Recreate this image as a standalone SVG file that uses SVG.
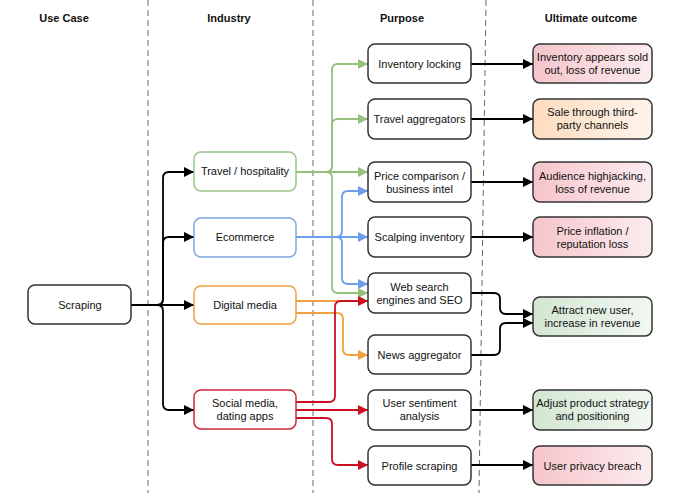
<svg xmlns="http://www.w3.org/2000/svg" width="700" height="493" viewBox="0 0 700 493">
<style>
text{font-family:"Liberation Sans",Arial,sans-serif;font-size:11px;fill:#111;text-anchor:middle;dominant-baseline:central}
.h{font-weight:bold}
.box{fill:#fff;stroke:#333;stroke-width:1.5}
.dash{stroke:#666;stroke-width:1;stroke-dasharray:6,4}
.c{fill:none;stroke-width:1.8}
.k{stroke:#000}.g{stroke:#97c07f}.b{stroke:#6d9eeb}.o{stroke:#f0a040}.r{stroke:#cc1020}
</style>
<defs>
<marker id="ak" markerUnits="userSpaceOnUse" markerWidth="10" markerHeight="10" refX="10" refY="5" orient="auto"><path d="M0,0 L10,5 L0,10 z" fill="#000"/></marker>
<marker id="ag" markerUnits="userSpaceOnUse" markerWidth="10" markerHeight="10" refX="10" refY="5" orient="auto"><path d="M0,0 L10,5 L0,10 z" fill="#97c07f"/></marker>
<marker id="ab" markerUnits="userSpaceOnUse" markerWidth="10" markerHeight="10" refX="10" refY="5" orient="auto"><path d="M0,0 L10,5 L0,10 z" fill="#6d9eeb"/></marker>
<marker id="ao" markerUnits="userSpaceOnUse" markerWidth="10" markerHeight="10" refX="10" refY="5" orient="auto"><path d="M0,0 L10,5 L0,10 z" fill="#f0a040"/></marker>
<marker id="ar" markerUnits="userSpaceOnUse" markerWidth="10" markerHeight="10" refX="10" refY="5" orient="auto"><path d="M0,0 L10,5 L0,10 z" fill="#cc1020"/></marker>
<linearGradient id="pink" x1="0" y1="0" x2="1" y2="0"><stop offset="0" stop-color="#f5c5cb"/><stop offset="1" stop-color="#fcecee"/></linearGradient>
<linearGradient id="peach" x1="0" y1="0" x2="1" y2="0"><stop offset="0" stop-color="#fcdcc0"/><stop offset="1" stop-color="#fff4ea"/></linearGradient>
<linearGradient id="green" x1="0" y1="0" x2="1" y2="0"><stop offset="0" stop-color="#d3e6d2"/><stop offset="1" stop-color="#f2f8f1"/></linearGradient>
</defs>
<rect width="700" height="493" fill="#fff"/>
<g id="lanes">
<line class="dash" x1="148" y1="0" x2="148" y2="493"/>
<line class="dash" x1="313" y1="0" x2="313" y2="493"/>
<line class="dash" x1="486" y1="0" x2="479" y2="493"/>
</g>
<g id="headers">
<text class="h" x="64" y="18">Use Case</text>
<text class="h" x="229" y="18">Industry</text>
<text class="h" x="402" y="18">Purpose</text>
<text class="h" x="591" y="18">Ultimate outcome</text>
</g>
<g id="connectors">
<path class="c k" marker-end="url(#ak)" d="M131,305 H157 Q163,305 163,299 V178 Q163,172 169,172 H194"/>
<path class="c k" marker-end="url(#ak)" d="M131,305 H157 Q163,305 163,299 V243 Q163,237 169,237 H194"/>
<path class="c k" marker-end="url(#ak)" d="M131,305 H194"/>
<path class="c k" marker-end="url(#ak)" d="M131,305 H157 Q163,305 163,311 V404 Q163,410 169,410 H194"/>
<path class="c g" marker-end="url(#ag)" d="M296,172 H326 Q332,172 332,166 V70 Q332,64 338,64 H368"/>
<path class="c g" marker-end="url(#ag)" d="M296,172 H326 Q332,172 332,166 V125 Q332,119 338,119 H368"/>
<path class="c g" marker-end="url(#ag)" d="M296,172 H368"/>
<path class="c g" marker-end="url(#ag)" d="M296,172 H326 Q332,172 332,178 V287 Q332,293 338,293 H368"/>
<path class="c b" marker-end="url(#ab)" d="M296,237 H336 Q342,237 342,231 V197 Q342,191 348,191 H368"/>
<path class="c b" marker-end="url(#ab)" d="M296,237 H368"/>
<path class="c b" marker-end="url(#ab)" d="M296,237 H336 Q342,237 342,243 V278 Q342,284 348,284 H368"/>
<path class="c o" marker-end="url(#ao)" d="M296,301 H368"/>
<path class="c o" marker-end="url(#ao)" d="M296,313 H337 Q343,313 343,319 V349 Q343,355 349,355 H368"/>
<path class="c r" marker-end="url(#ar)" d="M296,402 H329 Q335,402 335,396 V307 Q335,301 341,301 H368"/>
<path class="c r" marker-end="url(#ar)" d="M296,410 H368"/>
<path class="c r" marker-end="url(#ar)" d="M296,418 H326 Q332,418 332,424 V459 Q332,465 338,465 H368"/>
<path class="c k" marker-end="url(#ak)" d="M471,64 H533"/>
<path class="c k" marker-end="url(#ak)" d="M471,119 H533"/>
<path class="c k" marker-end="url(#ak)" d="M471,182 H533"/>
<path class="c k" marker-end="url(#ak)" d="M471,237 H533"/>
<path class="c k" marker-end="url(#ak)" d="M471,293 H494 Q500,293 500,299 V308 Q500,314 506,314 H533"/>
<path class="c k" marker-end="url(#ak)" d="M471,355 H494 Q500,355 500,349 V329 Q500,323 506,323 H533"/>
<path class="c k" marker-end="url(#ak)" d="M471,410 H533"/>
<path class="c k" marker-end="url(#ak)" d="M471,465 H533"/>
</g>
<g id="scraping"><rect class="box" x="28" y="285" width="103" height="39" rx="7"/><text x="80" y="305">Scraping</text></g>
<g id="travel"><rect class="box" style="stroke:#9cc38a" x="194" y="152" width="102" height="39" rx="7"/><text x="245" y="171">Travel / hospitality</text></g>
<g id="ecommerce"><rect class="box" style="stroke:#7ea6e0" x="194" y="218" width="102" height="39" rx="7"/><text x="245" y="237">Ecommerce</text></g>
<g id="digital"><rect class="box" style="stroke:#f0a040" x="194" y="286" width="102" height="38" rx="7"/><text x="245" y="305">Digital media</text></g>
<g id="social"><rect class="box" style="stroke:#c8283c" x="194" y="390" width="102" height="39" rx="7"/><text x="245" y="403">Social media,</text><text x="245" y="416">dating apps</text></g>
<g id="inventory-locking"><rect class="box" x="368" y="44" width="103" height="39" rx="7"/><text x="419.5" y="64">Inventory locking</text></g>
<g id="travel-aggregators"><rect class="box" x="368" y="99" width="103" height="40" rx="7"/><text x="419.5" y="119">Travel aggregators</text></g>
<g id="price-comparison"><rect class="box" x="368" y="162" width="103" height="40" rx="7"/><text x="419.5" y="176">Price comparison /</text><text x="419.5" y="189">business intel</text></g>
<g id="scalping"><rect class="box" x="368" y="217" width="103" height="40" rx="7"/><text x="419.5" y="237">Scalping inventory</text></g>
<g id="web-search"><rect class="box" x="368" y="273" width="103" height="40" rx="7"/><text x="419.5" y="287">Web search</text><text x="419.5" y="300">engines and SEO</text></g>
<g id="news"><rect class="box" x="368" y="335" width="103" height="39" rx="7"/><text x="419.5" y="355">News aggregator</text></g>
<g id="sentiment"><rect class="box" x="368" y="390" width="103" height="40" rx="7"/><text x="419.5" y="403">User sentiment</text><text x="419.5" y="416">analysis</text></g>
<g id="profile"><rect class="box" x="368" y="446" width="103" height="39" rx="7"/><text x="419.5" y="465.5">Profile scraping</text></g>
<g id="sold-out"><rect class="box" style="fill:url(#pink)" x="533" y="44" width="119" height="39" rx="7"/><text x="592.5" y="57">Inventory appears sold</text><text x="592.5" y="70">out, loss of revenue</text></g>
<g id="third-party"><rect class="box" style="fill:url(#peach)" x="533" y="99" width="119" height="40" rx="7"/><text x="592.5" y="112">Sale through third-</text><text x="592.5" y="125">party channels</text></g>
<g id="audience"><rect class="box" style="fill:url(#pink)" x="533" y="162" width="119" height="40" rx="7"/><text x="592.5" y="176">Audience highjacking,</text><text x="592.5" y="189">loss of revenue</text></g>
<g id="price-inflation"><rect class="box" style="fill:url(#pink)" x="533" y="217" width="119" height="40" rx="7"/><text x="592.5" y="231">Price inflation /</text><text x="592.5" y="244">reputation loss</text></g>
<g id="attract"><rect class="box" style="fill:url(#green)" x="533" y="297" width="119" height="39" rx="7"/><text x="592.5" y="310">Attract new user,</text><text x="592.5" y="323">increase in revenue</text></g>
<g id="adjust"><rect class="box" style="fill:url(#green)" x="533" y="390" width="119" height="40" rx="7"/><text x="592.5" y="403">Adjust product strategy</text><text x="592.5" y="416">and positioning</text></g>
<g id="privacy"><rect class="box" style="fill:url(#pink)" x="533" y="446" width="119" height="39" rx="7"/><text x="592.5" y="465.5">User privacy breach</text></g>
</svg>
